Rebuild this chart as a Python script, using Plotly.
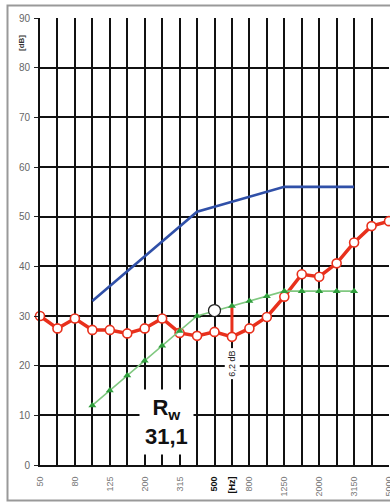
import plotly.graph_objects as go

# One-third octave band centre frequencies [Hz]
freqs = ["50", "63", "80", "100", "125", "160", "200", "250", "315", "400", "500",
         "630", "800", "1000", "1250", "1600", "2000", "2500", "3150", "4000", "5000"]

# Measured sound reduction index R [dB]
measured = [30.0, 27.5, 29.5, 27.2, 27.2, 26.5, 27.5, 29.5, 26.6, 26.0, 26.8,
            25.8, 27.5, 29.8, 33.9, 38.4, 37.9, 40.6, 44.8, 48.1, 49.1]

# ISO 717-1 reference curve (100 - 3150 Hz) and the shifted curve
ref_freqs = freqs[3:19]
ref_curve = [33, 36, 39, 42, 45, 48, 51, 52, 53, 54, 55, 56, 56, 56, 56, 56]
shifted_curve = [12, 15, 18, 21, 24, 27, 30, 31, 32, 33, 34, 35, 35, 35, 35, 35]

rw_value = 31.1
max_deficiency = 6.2
deficiency_freq = "630"

# x tick labels: every other band, plus the unit under 630 Hz
tick_text = []
for i, f in enumerate(freqs):
    if f == "500":
        tick_text.append("<b><span style='color:#111'>500</span></b>")
    elif f == "630":
        tick_text.append("<b><span style='color:#111'>[Hz]</span></b>")
    elif i % 2 == 0:
        tick_text.append(f)
    else:
        tick_text.append("")

idx = {f: i for i, f in enumerate(freqs)}
ref_x = [idx[f] for f in ref_freqs]
x_all = list(range(len(freqs)))

fig = go.Figure()

# reference curve
fig.add_trace(go.Scatter(
    x=ref_x, y=ref_curve, mode="lines",
    line=dict(color="#3050a8", width=2.6), hoverinfo="skip", cliponaxis=False))

# deficiency marker at the worst band (shifted curve minus deficiency)
di = idx[deficiency_freq]
d_top = shifted_curve[ref_freqs.index(deficiency_freq)]
fig.add_trace(go.Scatter(
    x=[di, di], y=[d_top - max_deficiency, d_top], mode="lines",
    line=dict(color="#e8301c", width=3), hoverinfo="skip", cliponaxis=False))

# measured curve
fig.add_trace(go.Scatter(
    x=x_all, y=measured, mode="lines+markers",
    line=dict(color="#e8301c", width=3.5),
    marker=dict(symbol="circle", size=9, color="white",
                line=dict(color="#e8301c", width=1.6)),
    hoverinfo="skip", cliponaxis=False))

# shifted reference curve
fig.add_trace(go.Scatter(
    x=ref_x, y=shifted_curve, mode="lines+markers",
    line=dict(color="#80c880", width=1.6),
    marker=dict(symbol="triangle-up", size=7, color="#2f9e3c"),
    hoverinfo="skip", cliponaxis=False))

# single-number rating point at 500 Hz
fig.add_trace(go.Scatter(
    x=[idx["500"]], y=[rw_value], mode="markers",
    marker=dict(symbol="circle", size=12, color="white",
                line=dict(color="#222", width=1.3)),
    hoverinfo="skip", cliponaxis=False))

W, H = 390, 503
L, R, T, B = 40, 1, 18, 38
pw, ph = W - L - R, H - T - B

fig.add_annotation(
    x=di, y=20.4, xref="x", yref="y", text="6,2 dB", textangle=-90,
    showarrow=False, font=dict(family="Arial, Liberation Sans", size=9, color="#222"),
    bgcolor="white", borderpad=2)

fig.add_annotation(
    x=7.25, y=8.6, xref="x", yref="y",
    text="<b>R<sub>w</sub><br>31,1</b>",
    showarrow=False, font=dict(family="Arial, Liberation Sans", size=22, color="#111"),
    bgcolor="white", borderpad=5)

# unit label of the level axis
fig.add_annotation(
    x=(22 - L) / pw, y=(H - B - 43) / ph, xref="paper", yref="paper",
    xanchor="center", yanchor="middle",
    text="<b>[dB]</b>", textangle=-90,
    showarrow=False, font=dict(family="Arial, Liberation Sans", size=8, color="#333"))

# outer frame
fig.add_shape(type="rect", xref="paper", yref="paper",
              x0=(7.5 - L) / pw, x1=(W + 3 - L) / pw,
              y0=(H - B - 500.5) / ph, y1=(H - B - 5.5) / ph,
              line=dict(color="#999", width=2), fillcolor="rgba(0,0,0,0)", layer="below")

fig.update_layout(
    width=W, height=H,
    margin=dict(l=L, r=R, t=T, b=B, autoexpand=False),
    paper_bgcolor="white", plot_bgcolor="white",
    showlegend=False,
    font=dict(family="Arial, Liberation Sans"),
    xaxis=dict(range=[0, 20], tickmode="array", tickvals=x_all, ticktext=tick_text,
               tickangle=-90, tickfont=dict(size=9, color="#777"),
               ticklabeloverflow="allow",
               showgrid=True, gridcolor="#111", gridwidth=1.5,
               zeroline=False, showline=True, linecolor="#111", linewidth=2,
               ticks="", ticklabelstandoff=6, fixedrange=True),
    yaxis=dict(range=[0, 90], tickmode="array", tickvals=list(range(0, 91, 10)),
               tickfont=dict(size=10, color="#666"),
               showgrid=True, gridcolor="#111", gridwidth=1.5,
               zeroline=False, showline=True, linecolor="#111", linewidth=2,
               ticks="outside", ticklen=4, tickcolor="#222", tickwidth=1.3,
               ticklabelstandoff=2, fixedrange=True),
)

fig.write_html("out.html")
